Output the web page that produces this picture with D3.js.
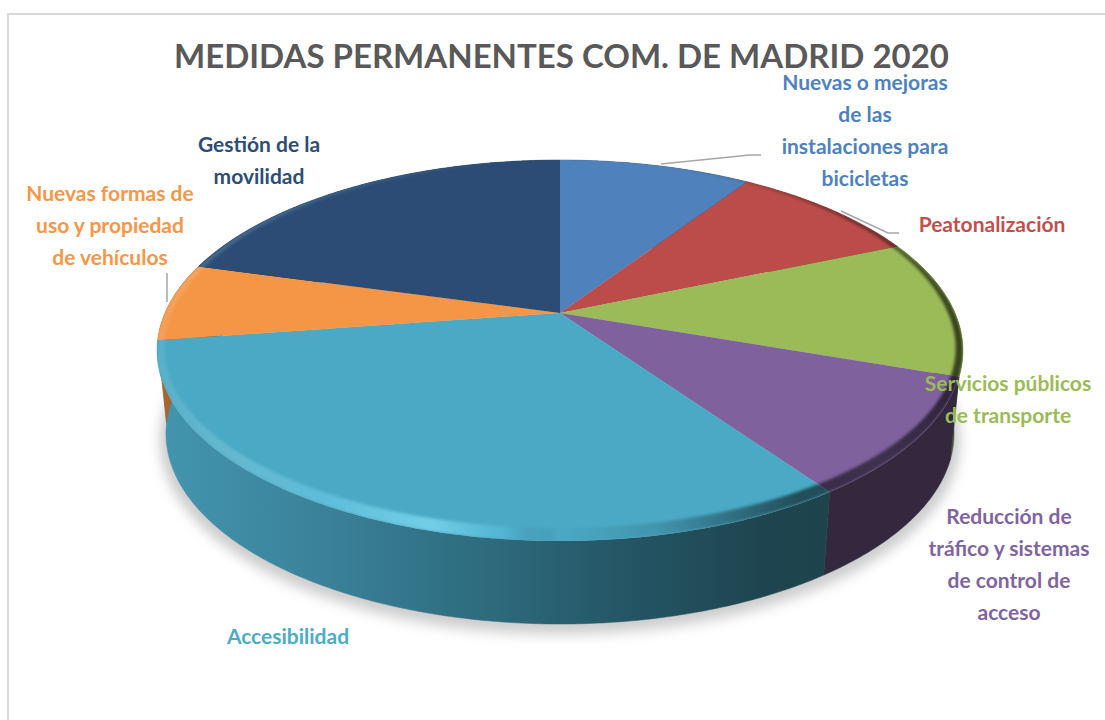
<!DOCTYPE html>
<html>
<head>
<meta charset="utf-8">
<script src="https://cdn.jsdelivr.net/npm/d3@7"></script>
<style>
  html, body { margin: 0; padding: 0; background: #fff; overflow: hidden; }
  text { font-family: Lato, "Open Sans", sans-serif; font-weight: 700; }
</style>
</head>
<body>
<div id="container"></div>
<script>
const w = 1105;
const h = 720;

// data (% of the pie, clockwise from 12 o'clock)
const categories = ["Nuevas o mejoras de las instalaciones para bicicletas", "Peatonalización",
  "Servicios públicos de transporte", "Reducción de tráfico y sistemas de control de acceso",
  "Accesibilidad", "Nuevas formas de uso y propiedad de vehículos", "Gestión de la movilidad"];
const shares = [9.3, 9.3, 11.7, 10.0, 32.4, 6.6, 20.7];
const labelLines = [
  ["Nuevas o mejoras", "de las", "instalaciones para", "bicicletas"],
  ["Peatonalización"],
  ["Servicios públicos", "de transporte"],
  ["Reducción de", "tráfico y sistemas", "de control de", "acceso"],
  ["Accesibilidad"],
  ["Nuevas formas de", "uso y propiedad", "de vehículos"],
  ["Gestión de la", "movilidad"]
];
const title = "MEDIDAS PERMANENTES COM. DE MADRID 2020";

const faceColors = ["#4f81bd", "#bb4c49", "#9bbb59", "#7f619d", "#4aa9c4", "#f49645", "#2c4c75"];
const labelColors = ["#4f81bd", "#c0504d", "#9bbb59", "#8064a2", "#4bacc6", "#f79646", "#2c4d75"];
const sideColors = ["#2c4a6e", "#6e2c2a", "#4d5f2c", "#34283f", "#25596a", "#a8652d", "#1a2e47"];

// label placement: centre x and first baseline
const labelX = [865, 992, 1008, 1009, 288, 110, 259];
const labelY = [90, 232, 391, 524, 644, 201, 152];
const lineStep = 32;

const leaders = [
  [[661, 164], [750, 155], [761, 155]],
  [[841, 211], [888, 233], [899, 233]],
  [[167, 273], [167, 302]]
];

// pie geometry, perspective projection of a disc
const cx = 560, cy = 313;
const persA = 183.1, persP = 0.197, persB = 395;
const depth = 83, shrink = 0.978;

function topPt(t) {
  const u = Math.sin(t), v = -Math.cos(t);
  const d = 1 - persP * v;
  return [cx + persB * u / d, cy + persA * v / d];
}
function bottomPt(t) {
  const q = topPt(t);
  return [cx + (q[0] - cx) * shrink, q[1] + depth];
}
function bevelPt(t) {
  const q = topPt(t);
  const v = -Math.cos(t);
  return [cx + (q[0] - cx) * 0.982, q[1] - 13 * Math.max(0, v)];
}
function arcAngles(t0, t1) {
  const step = 0.01;
  return d3.range(t0, t1, step).concat([t1]);
}

const line = d3.line();
const pie = d3.pie().sort(null).value(d => d)(shares);

const svg = d3.select("#container").append("svg")
  .attr("width", w).attr("height", h)
  .style("display", "block");
const defs = svg.append("defs");

defs.append("filter").attr("id", "shadow").attr("x", "-10%").attr("y", "-10%")
  .attr("width", "120%").attr("height", "120%")
  .append("feGaussianBlur").attr("stdDeviation", 6);
defs.append("filter").attr("id", "soft").attr("x", "-10%").attr("y", "-10%")
  .attr("width", "120%").attr("height", "120%")
  .append("feGaussianBlur").attr("stdDeviation", 1.6);

// teal wall goes dark from left to right
const tealWall = defs.append("linearGradient").attr("id", "tealWall")
  .attr("gradientUnits", "userSpaceOnUse")
  .attr("x1", 160).attr("x2", 830).attr("y1", 0).attr("y2", 0);
[[0, "#4395af"], [0.25, "#3a8199"], [0.5, "#2d6a7c"], [0.68, "#255767"], [0.9, "#1e454f"], [1, "#1e434d"]]
  .forEach(s => tealWall.append("stop").attr("offset", s[0]).attr("stop-color", s[1]));

// light on the left of the bevel, shade on the right
const rim = defs.append("linearGradient").attr("id", "rim")
  .attr("gradientUnits", "userSpaceOnUse")
  .attr("x1", 157).attr("x2", 963).attr("y1", 0).attr("y2", 0);
[[0, "#fff", 0.08], [0.2, "#7fe0ff", 0.35], [0.34, "#8fe8ff", 0.6], [0.43, "#6fd8ff", 0.25], [0.5, "#000", 0],
 [0.62, "#000", 0.12], [0.8, "#000", 0.55], [0.9, "#000", 0.5], [1, "#000", 0.65]]
  .forEach(s => rim.append("stop").attr("offset", s[0]).attr("stop-color", s[1]).attr("stop-opacity", s[2]));

// frame
svg.append("path")
  .attr("d", line([[8, h], [8, 14], [w, 14]]))
  .attr("fill", "none").attr("stroke", "#d9d9d9").attr("stroke-width", 2);

// shadow under the pie
svg.append("path")
  .attr("d", line(arcAngles(0, 2 * Math.PI).map(bottomPt)) + "Z")
  .attr("transform", `translate(${cx},${cy + 4}) scale(1.016,1.02) translate(${-cx},${-cy})`)
  .attr("fill", "#000").attr("fill-opacity", 0.2)
  .attr("filter", "url(#shadow)");

// walls
svg.append("g").selectAll("path").data(pie).enter().append("path")
  .attr("d", d => {
    const angles = arcAngles(d.startAngle, d.endAngle);
    return line(angles.map(topPt).concat(angles.slice().reverse().map(bottomPt))) + "Z";
  })
  .attr("fill", (d, i) => i === 4 ? "url(#tealWall)" : sideColors[i])
  .attr("stroke", (d, i) => i === 4 ? "url(#tealWall)" : sideColors[i])
  .attr("stroke-width", 0.5);

// top faces
const faces = pie.map(d => line([[cx, cy]].concat(arcAngles(d.startAngle, d.endAngle).map(topPt))) + "Z");
svg.append("g").selectAll("path").data(pie).enter().append("path")
  .attr("d", (d, i) => faces[i])
  .attr("fill", (d, i) => faceColors[i]);

// bevel along the front rim
pie.forEach((d, i) => {
  defs.append("clipPath").attr("id", "face" + i).append("path").attr("d", faces[i]);
});
svg.append("g").selectAll("g").data(pie).enter().append("g")
  .attr("clip-path", (d, i) => `url(#face${i})`)
  .append("path")
  .attr("d", d => {
    const angles = arcAngles(d.startAngle - 0.02, d.endAngle + 0.02);
    return line(angles.map(topPt).concat(angles.slice().reverse().map(bevelPt))) + "Z";
  })
  .attr("fill", "url(#rim)")
  .attr("filter", "url(#soft)");

// leader lines
svg.append("g").selectAll("path").data(leaders).enter().append("path")
  .attr("d", d => line(d))
  .attr("fill", "none").attr("stroke", "#a6a6a6").attr("stroke-width", 1.5);

// title
svg.append("text")
  .attr("x", 561.5).attr("y", 68)
  .attr("text-anchor", "middle")
  .attr("font-size", 33)
  .attr("fill", "#595959")
  .text(title);

// labels
const labels = svg.append("g").selectAll("text").data(labelLines).enter().append("text")
  .attr("text-anchor", "middle")
  .attr("font-size", 21)
  .attr("fill", (d, i) => labelColors[i]);
labels.each(function(d, i) {
  d3.select(this).selectAll("tspan").data(d).enter().append("tspan")
    .attr("x", labelX[i])
    .attr("y", (s, j) => labelY[i] + j * lineStep)
    .text(s => s);
});
</script>
</body>
</html>
